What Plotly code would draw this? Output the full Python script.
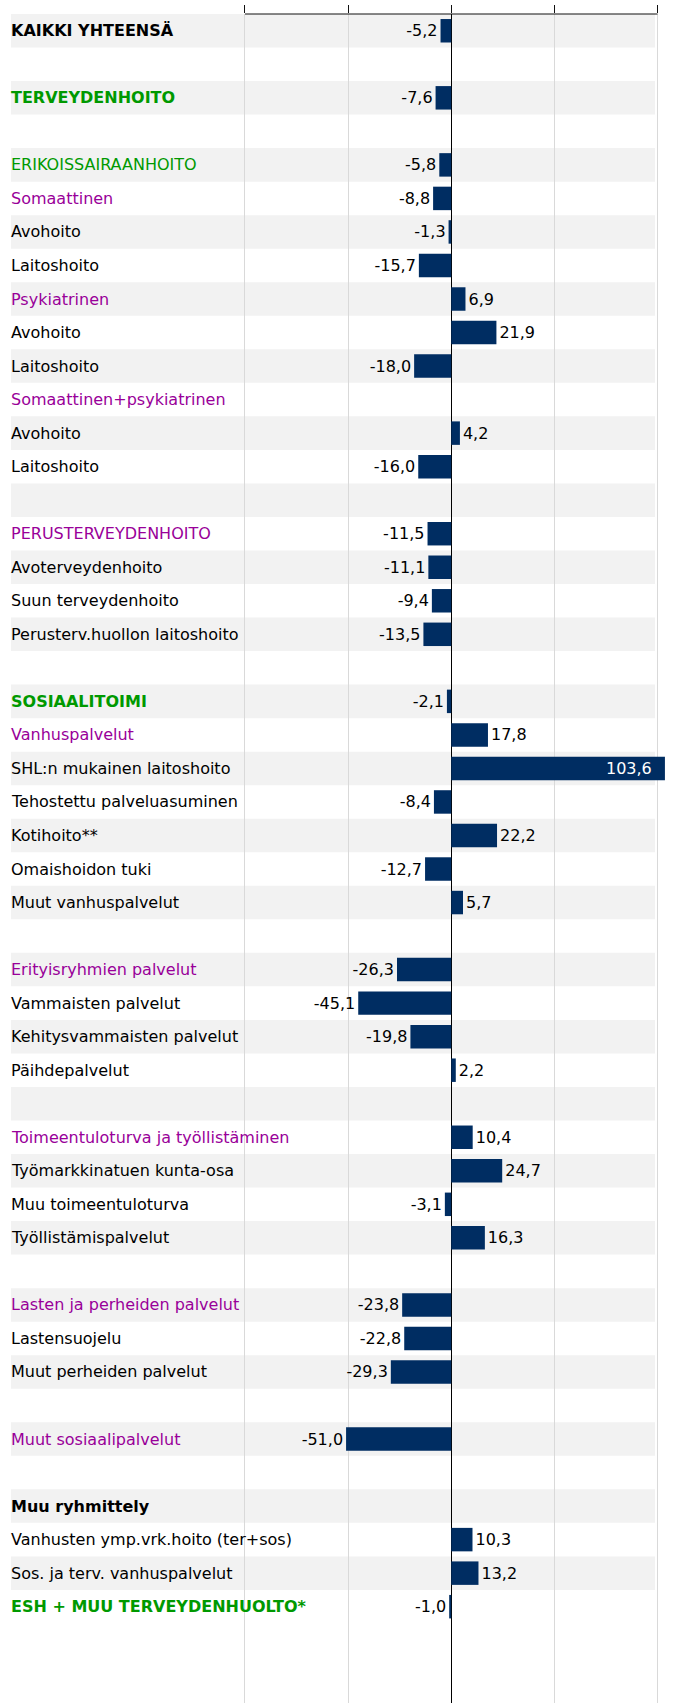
import plotly.graph_objects as go

categories = [
    "KAIKKI YHTEENSÄ", "", "TERVEYDENHOITO", "",
    "ERIKOISSAIRAANHOITO", "Somaattinen", "Avohoito", "Laitoshoito",
    "Psykiatrinen", "Avohoito", "Laitoshoito",
    "Somaattinen+psykiatrinen", "Avohoito", "Laitoshoito", "",
    "PERUSTERVEYDENHOITO", "Avoterveydenhoito", "Suun terveydenhoito",
    "Perusterv.huollon laitoshoito", "",
    "SOSIAALITOIMI", "Vanhuspalvelut", "SHL:n mukainen laitoshoito",
    "Tehostettu palveluasuminen", "Kotihoito**", "Omaishoidon tuki",
    "Muut vanhuspalvelut", "",
    "Erityisryhmien palvelut", "Vammaisten palvelut",
    "Kehitysvammaisten palvelut", "Päihdepalvelut", "",
    "Toimeentuloturva ja työllistäminen", "Työmarkkinatuen kunta-osa",
    "Muu toimeentuloturva", "Työllistämispalvelut", "",
    "Lasten ja perheiden palvelut", "Lastensuojelu",
    "Muut perheiden palvelut", "",
    "Muut sosiaalipalvelut", "",
    "Muu ryhmittely", "Vanhusten ymp.vrk.hoito (ter+sos)",
    "Sos. ja terv. vanhuspalvelut", "ESH + MUU TERVEYDENHUOLTO*",
]

values = [
    -5.2, None, -7.6, None,
    -5.8, -8.8, -1.3, -15.7,
    6.9, 21.9, -18.0,
    None, 4.2, -16.0, None,
    -11.5, -11.1, -9.4,
    -13.5, None,
    -2.1, 17.8, 103.6,
    -8.4, 22.2, -12.7,
    5.7, None,
    -26.3, -45.1,
    -19.8, 2.2, None,
    10.4, 24.7,
    -3.1, 16.3, None,
    -23.8, -22.8,
    -29.3, None,
    -51.0, None,
    None, 10.3,
    13.2, -1.0,
]

# label kind: n = normal, b = bold black, gb = bold green, g = green, p = purple
kinds = [
    "b", "n", "gb", "n",
    "g", "p", "n", "n",
    "p", "n", "n",
    "p", "n", "n", "n",
    "p", "n", "n",
    "n", "n",
    "gb", "p", "n",
    "n", "n", "n",
    "n", "n",
    "p", "n",
    "n", "n", "n",
    "p", "n",
    "n", "n", "n",
    "p", "n",
    "n", "n",
    "p", "n",
    "b", "n",
    "n", "gb",
]

x_ticks = [-100, -50, 0, 50, 100]

FONT = "Verdana, DejaVu Sans, sans-serif"
W, H = 685, 1703
kind_style = {
    "n": ("#000000", False),
    "b": ("#000000", True),
    "gb": ("#009900", True),
    "g": ("#009900", False),
    "p": ("#990099", False),
}

rows = list(range(len(categories)))

texts = []
positions = []
for v in values:
    if v is None:
        texts.append("")
        positions.append("none")
    else:
        t = f"{v:.1f}".replace(".", ",")
        if v > 100:
            texts.append(t + "\u00a0\u00a0")
            positions.append("inside")
        else:
            texts.append(t)
            positions.append("outside")

# axis geometry: -100 at x=245px, +100 at x=657.5px
px_left, px_right = 245.0, 657.5
k = (px_right - px_left) / (x_ticks[-1] - x_ticks[0])
xr0, xr1 = -101.0, 107.0
dom0 = (px_left + (xr0 - x_ticks[0]) * k) / W
dom1 = (px_right + (xr1 - x_ticks[-1]) * k) / W

fig = go.Figure()
fig.add_trace(go.Bar(
    y=rows, x=values, orientation="h",
    marker=dict(color="#002D62", line=dict(width=0)),
    width=0.7,
    text=texts, textposition=positions,
    insidetextanchor="end",
    insidetextfont=dict(color="white", size=16, family=FONT),
    outsidetextfont=dict(color="black", size=16, family=FONT),
    constraintext="none",
    cliponaxis=False,
    hoverinfo="skip",
))

shapes = []
annotations = []
for i, (cat, kd) in enumerate(zip(categories, kinds)):
    if i % 2 == 0:
        shapes.append(dict(
            type="rect", xref="paper", yref="y",
            x0=11 / W, x1=655 / W, y0=i - 0.5, y1=i + 0.5,
            fillcolor="#f2f2f2", line=dict(width=0), layer="below",
        ))
    if cat:
        color, bold = kind_style[kd]
        annotations.append(dict(
            xref="paper", yref="y", x=8.5 / W, y=i,
            xanchor="left", yanchor="middle", showarrow=False,
            text=f"<b>{cat}</b>" if bold else cat,
            font=dict(family=FONT, size=16, color=color),
        ))

# top axis line spanning -100..100
shapes.append(dict(
    type="line", xref="x", yref="paper",
    x0=x_ticks[0], x1=x_ticks[-1], y0=1, y1=1,
    line=dict(color="#111111", width=1), layer="above",
))

pitch_top = -0.5
plot_h = H - 14
pitch = 33.53
bottom = pitch_top + plot_h / pitch

fig.update_layout(
    width=W, height=H,
    margin=dict(l=0, r=0, t=14, b=0),
    plot_bgcolor="white", paper_bgcolor="white",
    showlegend=False,
    shapes=shapes, annotations=annotations,
    font=dict(family=FONT, size=16, color="black"),
    xaxis=dict(
        domain=[dom0, dom1], range=[xr0, xr1],
        side="top", showline=False,
        ticks="outside", ticklen=8, tickcolor="#111111", tickwidth=1,
        tickvals=x_ticks, showticklabels=False,
        showgrid=True, gridcolor="#d9d9d9", gridwidth=1,
        zeroline=True, zerolinecolor="black", zerolinewidth=1,
        fixedrange=True,
    ),
    yaxis=dict(
        range=[bottom, pitch_top], showgrid=False, zeroline=False,
        showticklabels=False, ticks="", showline=False, fixedrange=True,
    ),
)

fig.write_html(
    "out.html",
    config={"displayModeBar": False},
    post_script="document.body.style.margin='0';",
)
